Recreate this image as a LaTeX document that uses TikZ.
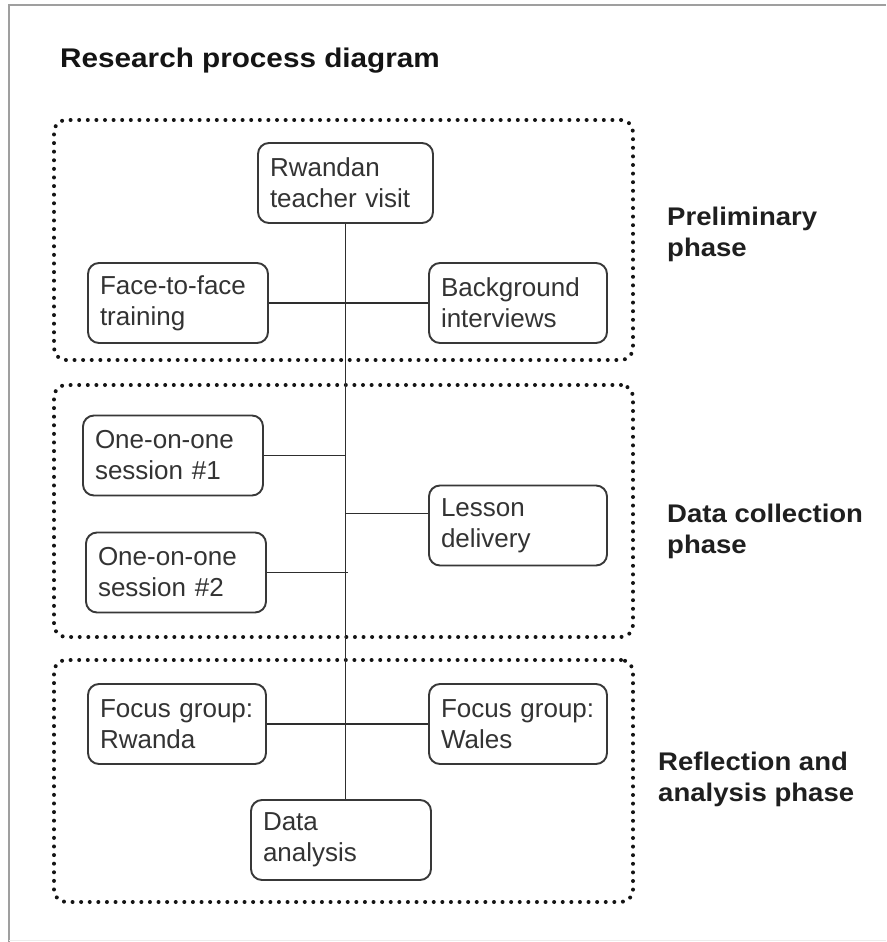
\documentclass[tikz,border=0pt]{standalone}
\usepackage{fontspec}
\setmainfont{Liberation Sans}
\newfontfamily\widebold[FakeStretch=1.08]{Liberation Sans Bold}
\newfontfamily\titlebold[FakeStretch=1.1]{Liberation Sans Bold}
\begin{document}
\begin{tikzpicture}[x=1pt,y=-1pt,
  stepbox/.style={draw=black!78, line width=1.9pt, rounded corners=11pt,
    minimum height=80pt, inner xsep=12pt, inner ysep=0pt, align=left,
    text=black!80, font=\fontsize{26}{31}\selectfont},
  phasebox/.style={draw=black!92, line width=4pt, dash pattern=on 0pt off 8.6pt,
    line cap=round, rounded corners=12pt, inner sep=0pt},
  link/.style={draw=black!82, line width=1.8pt},
  phaselabel/.style={anchor=north west, inner sep=0pt, align=left,
    font=\fontsize{25.5}{31}\widebold, text=black!88}]
\useasboundingbox (0,0) rectangle (886,942);
\fill[white] (0,0) rectangle (886,942);
% outer frame
\draw[gray!75, line width=2.8pt] (9,942) -- (9,5) -- (886,5);
\draw[gray!15, line width=1pt] (9,940) -- (886,940);
% title
\node[anchor=base west, inner sep=0pt, font=\fontsize{27}{33}\titlebold, text=black!92] (title) at (60,67) {Research process diagram};
% phase boxes
\node[phasebox, minimum width=579pt, minimum height=240pt] (p1) at (343.5,240) {};
\node[phasebox, minimum width=579pt, minimum height=252pt] (p2) at (343.5,511) {};
\node[phasebox, minimum width=579pt, minimum height=242pt] (p3) at (343.5,781) {};
% steps
\node[stepbox, text width=151pt] (rw) at (345.5,183) {Rwandan\\teacher visit};
\node[stepbox, text width=156pt] (ff) at (178,303) {\mbox{Face-to-face}\\training};
\node[stepbox, text width=154pt] (bg) at (518,303) {Background\\interviews};
\node[stepbox, text width=156pt] (s1) at (173,455.5) {One-on-one\\session \#1};
\node[stepbox, text width=154pt] (ld) at (518,525.5) {Lesson\\delivery};
\node[stepbox, text width=156pt] (s2) at (176,572.5) {One-on-one\\session \#2};
\node[stepbox, text width=154pt] (fr) at (177,724) {\mbox{Focus group:}\\Rwanda};
\node[stepbox, text width=154pt] (fw) at (518,724) {\mbox{Focus group:}\\Wales};
\node[stepbox, text width=156pt] (da) at (341,840) {Data\\analysis};
% connectors
\draw[link] (rw.south) -- (rw.south |- da.north);
\draw[link] (ff.east) -- (bg.west);
\draw[link] (s1.east) -- (s1.east -| rw.south);
\draw[link] ([yshift=12pt]ld.west) -- ([yshift=12pt]ld.west -| rw.south);
\draw[link] (s2.east) -- ([xshift=2pt]s2.east -| rw.south);
\draw[link] (fr.east) -- (fw.west);
% phase labels
\node[phaselabel] (l1) at (667,207) {Preliminary\\phase};
\node[phaselabel] (l2) at (667,503.5) {Data collection\\phase};
\node[phaselabel] (l3) at (658,751.5) {Reflection and\\analysis phase};
\end{tikzpicture}
\end{document}
